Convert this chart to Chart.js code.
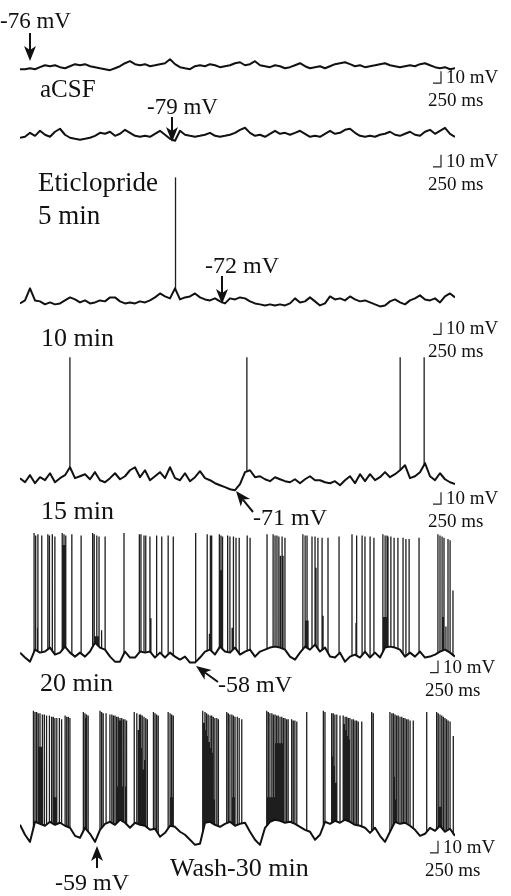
<!DOCTYPE html>
<html>
<head>
<meta charset="utf-8">
<script src="https://cdn.jsdelivr.net/npm/chart.js@4.4.1/dist/chart.umd.min.js"></script>
<style>
  html, body { margin: 0; padding: 0; background: #fff; }
  #page { position: relative; width: 511px; height: 896px; overflow: hidden; background: #fff; }
  #page canvas { position: absolute; left: 20px; }
  .lbl { position: absolute; font-family: "Liberation Serif", "DejaVu Serif", serif; color: #111; line-height: 1; white-space: nowrap; }
  #arrows { position: absolute; left: 0; top: 0; }
</style>
</head>
<body>
<div id="page"></div>
<script>
// baselines digitised every 0.15625 s (mV)
const dt = 0.15625;

const base1 = [-78.5,-78.5,-77.7,-78.5,-76.8,-75.2,-76,-75.2,-76.8,-77.7,
  -76,-74.3,-75.2,-74.3,-76,-76.8,-77.7,-78.5,-79.3,-77.7,
  -76,-73.5,-71.8,-74.3,-75.2,-74.3,-76,-75.2,-74.3,-73.5,
  -70.2,-74.3,-76.8,-77.7,-78.5,-76,-75.2,-76,-74.3,-75.2,
  -76.8,-76,-75.2,-73.5,-72.7,-75.2,-74.3,-71.8,-75.2,-76,
  -76.8,-75.2,-76,-77.7,-76.8,-75.2,-73.5,-76,-77.7,-76.8,
  -76,-77.7,-76,-74.3,-73.5,-72.7,-74.3,-76,-75.2,-76.8,
  -76,-75.2,-74.3,-73.5,-75.2,-76,-76.8,-76,-75.2,-76,
  -74.3,-73.5,-75.2,-76.8,-77.7,-76.8,-78.5,-77.7];

const base2 = [-77.3,-76.5,-73.2,-75.7,-71.5,-74.8,-76.5,-72.3,-69.8,-74.8,
  -77.3,-78.2,-79,-78.2,-77.3,-75.7,-73.2,-74,-72.3,-75.7,
  -74,-70.7,-73.2,-75.7,-76.5,-75.7,-76.5,-74,-71.5,-74.8,
  -78.2,-79.8,-71.5,-74.8,-75.7,-76.5,-75.7,-74.8,-73.2,-75.7,
  -76.5,-75.7,-74.8,-73.2,-70.7,-69,-73.2,-75.7,-74.8,-76.5,
  -74,-71.5,-74,-73.2,-74.8,-73.2,-71.5,-74,-76.5,-75.7,
  -76.5,-74,-71.5,-74,-73.2,-70.7,-69.8,-73.2,-75.7,-76.5,
  -75.7,-76.5,-74.8,-74,-72.3,-74.8,-75.7,-74,-72.3,-74.8,
  -75.7,-72.3,-70.7,-74,-71.5,-69,-74,-76.5];

const base3 = [-72,-69.5,-59.5,-69.5,-70.3,-72.8,-71.2,-72.8,-72,-69.5,
  -67,-68.7,-71.2,-69.5,-72,-71.2,-69.5,-70.3,-67,-67,
  -70.3,-72,-71.2,-72,-70.3,-71.2,-69.5,-67,-63.7,-66.2,
  -67.8,-59.5,-68.7,-67,-66.2,-63.7,-67,-68.7,-69.5,-67.8,
  -70.3,-72,-67.8,-68.7,-67,-67.8,-70.3,-72,-72.8,-73.7,
  -72.8,-73.7,-72.8,-73.7,-72,-67.8,-71.2,-70.3,-67,-70.3,
  -73.7,-72,-66.2,-68.7,-67.8,-69.5,-66.2,-68.7,-70.3,-69.5,
  -71.2,-72.8,-74.5,-73.7,-70.3,-68.7,-71.2,-72.8,-69.5,-67.8,
  -65.3,-68.7,-69.5,-67.8,-71.2,-66.2,-63.7,-67];

const base4 = [-61.8,-65.2,-59.3,-66,-61,-63.5,-57.7,-65.2,-61.8,-59.3,
  -52.7,-61.8,-60.2,-58.5,-62.7,-56.8,-63.5,-65.2,-61.8,-57.7,
  -62.7,-60.2,-55.2,-52.7,-61,-55.2,-63.5,-60.2,-56.8,-61.8,
  -52.7,-61.8,-63.5,-57.7,-64.3,-61,-56,-61.8,-63.5,-66,
  -67.7,-69.3,-71,-71.8,-66.8,-56.8,-55.2,-61,-60.2,-62.7,
  -64.3,-61,-62.7,-64.3,-65.2,-62.7,-66,-62.7,-60.2,-63.5,
  -63.5,-65.2,-66,-64.3,-67.7,-63.5,-60.2,-66,-58.5,-64.3,
  -58.5,-63.5,-61,-56.8,-61,-58.5,-55.2,-51,-61.8,-60.2,
  -56.8,-49.3,-60.2,-63.5,-57.7,-62.7,-65.2,-66.8];

const base5 = [-49.7,-53.8,-57.2,-47.2,-49.7,-48.8,-45.5,-51.3,-49.7,-44.7,
  -49.7,-53,-49.7,-53,-48.8,-41.3,-45.5,-47.2,-53,-57.2,
  -57.2,-48.8,-53.8,-53.8,-48.8,-49.7,-48.8,-53.8,-49.7,-53.8,
  -49.7,-53,-55.5,-53,-58,-58,-53.8,-48.8,-47.2,-51.3,
  -44.7,-48.8,-49.7,-45.5,-51.3,-48.8,-47.2,-53,-48.8,-47.2,
  -45.5,-44.7,-45.5,-47.2,-53,-55.5,-49.7,-44.7,-47.2,-43,
  -48.8,-45.5,-53,-53.8,-49.7,-57.2,-53,-51.3,-53.8,-48.8,
  -53.8,-49.7,-53.8,-45.5,-44.7,-45.5,-47.2,-53,-49.7,-53,
  -48.8,-53.8,-53,-51.3,-48.8,-47.2,-49.7,-53];

const base6 = [-44,-52.3,-58.2,-41.5,-43.2,-44.8,-41.5,-44,-42.3,-44.8,
  -46.5,-53.2,-54.8,-46.5,-51.5,-58.2,-48.2,-43.2,-41.5,-44,
  -39.8,-42.3,-46.5,-42.3,-44,-44.8,-48.2,-47.3,-54,-50.7,
  -44.8,-45.7,-49.8,-52.3,-56.5,-60.7,-59.8,-42.3,-41.5,-44,
  -45.7,-43.2,-41.5,-44.8,-43.2,-42.3,-49.8,-56.5,-60.7,-46.5,
  -41.5,-39.8,-40.7,-42.3,-41.5,-43.2,-45.7,-48.2,-49.8,-56.5,
  -52.3,-41.5,-43.2,-40.7,-42.3,-39.8,-41.5,-44,-44.8,-46.5,
  -50.7,-46.5,-53.2,-58.2,-49.8,-41.5,-43.2,-42.3,-44.8,-48.2,
  -53.2,-51.5,-46.5,-49,-44.8,-49.8,-47.3,-53.2];

// spike times (s) and peak potentials (mV)
const spikeT3 = [4.86];
const spikeV3 = [33];

const spikeT4 = [1.56, 7.09, 11.88, 12.63];
const spikeV4 = [39, 39, 39, 39];

const spikeT5 = [0.44,0.49,0.55,0.56,0.68,0.87,0.92,1.01,1.09,1.32,1.35,1.375,1.40,1.43,1.62,1.91,
  2.27,2.32,2.36,2.40,2.44,2.47,2.55,2.66,
  3.25,
  3.73,3.78,3.875,3.93,4.06,4.09,4.27,4.43,4.63,4.79,
  5.49,5.85,5.92,5.95,5.99,6.23,6.26,6.28,6.31,6.33,6.49,6.56,6.63,6.67,6.75,6.85,7.10,7.19,
  7.72,7.91,7.97,8.03,8.09,8.14,8.19,8.22,8.28,
  8.84,8.91,8.94,8.97,9.00,9.125,9.22,9.25,9.31,9.44,9.47,9.625,9.97,
  10.375,10.5,10.52,10.69,10.78,10.94,11.06,
  11.34,11.38,11.41,11.44,11.47,11.5,11.59,11.69,11.81,11.97,12.06,12.16,12.47,
  13.06,13.125,13.19,13.22,13.25,13.31,13.375,13.44,13.53];
const spikeV5 = [50,48,-29,49,48,49,48,49,47,50,40,49,40,48,49,48,
  50,49,-36,48,-36,47,-31,47,
  50,
  49,49,48,48,47,-21,48,47,48,47,
  50,49,-34,48,48,49,19,48,19,47,48,47,-29,47,46,46,48,46,
  49,49,48,48,47,31,47,31,46,
  49,48,-23,48,-23,47,47,21,46,46,-19,46,47,
  49,-25,48,48,47,47,46,
  49,-20,48,-20,48,47,47,46,46,46,45,45,46,
  49,48,47,-20,46,-28,45,44,2];

const spikeT6 = [0.42,0.47,0.52,0.57,0.60,0.625,0.66,0.70,0.76,0.83,0.92,0.99,1.04,1.07,1.09,1.12,1.15,1.23,1.30,1.41,1.46,1.51,1.56,
  1.98,2.03,2.06,2.08,2.13,
  2.5,2.55,2.60,2.69,2.81,2.87,2.92,2.97,3.02,3.05,3.07,3.10,3.125,3.15,3.18,3.21,3.23,3.28,3.31,3.33,
  3.57,3.65,3.70,3.73,3.77,3.80,3.82,3.85,3.875,3.90,3.93,3.98,
  4.17,4.22,4.27,4.32,
  4.63,4.69,4.72,4.74,4.77,4.79,
  5.71,5.75,5.78,5.81,5.83,5.86,5.88,5.91,5.94,5.97,5.99,6.02,6.04,6.07,6.09,6.15,6.20,
  6.46,6.51,6.56,6.62,6.645,6.67,6.70,6.72,6.79,6.85,6.93,
  7.71,7.74,7.76,7.79,7.81,7.84,7.87,7.90,7.92,7.95,7.97,8.00,8.02,8.05,8.07,8.10,8.125,8.15,8.18,8.21,8.23,8.28,8.33,8.38,8.49,8.54,8.59,8.65,
  8.96,
  9.48,9.53,9.74,9.77,9.79,9.82,9.84,9.87,9.90,10.0,10.10,10.13,10.16,10.19,10.21,10.24,10.26,10.29,10.31,10.37,10.42,10.47,10.52,10.57,10.68,
  10.99,11.04,
  11.56,11.62,11.67,11.70,11.72,11.75,11.77,11.82,11.875,11.93,11.98,12.03,12.08,12.13,12.19,12.29,
  12.71,
  13.02,13.07,13.10,13.125,13.15,13.18,13.23,13.28,13.33,13.38,13.44,13.54];
const spikeV6 = [51,50,50,49,21,49,21,48,48,47,47,46,46,-21,45,-21,45,45,44,47,46,46,45,
  50,49,45,48,47,
  51,50,49,49,48,48,47,47,46,-12,46,43,45,43,45,-12,44,44,-12,43,
  50,49,35,48,48,20,47,2,46,10,45,44,
  50,49,48,47,
  50,49,-21,48,-21,47,
  51,41,50,35,49,30,48,25,47,20,47,16,46,-23,45,45,44,
  50,49,48,48,-21,47,-21,46,46,45,44,
  51,-21,50,-21,49,-21,49,-21,48,-21,48,24,47,24,47,24,46,24,46,24,45,45,44,44,44,43,43,42,
  50,
  51,50,49,13,49,5,48,-9,48,47,47,40,46,35,46,30,45,27,45,44,44,43,43,42,42,
  50,49,
  50,49,49,-4,48,-23,47,47,46,46,45,45,44,44,43,43,
  50,
  50,49,-29,48,-29,47,46,45,44,43,42,30];

// calibration bar
const scaleMs = 250;
const scaleMv = 10;

// layout: rest = resting potential marked on trace, restY = its pixel row; bar = calibration corner
const panels = [
  { base: base1, spT: [], spV: [], rest: -76, restY: 66, barX: 441, barY: 83 },
  { base: base2, spT: [], spV: [], rest: -79, restY: 140, barX: 441, barY: 167 },
  { base: base3, spT: spikeT3, spV: spikeV3, rest: -72, restY: 303, barX: 441, barY: 334 },
  { base: base4, spT: spikeT4, spV: spikeV4, rest: -71, restY: 489, barX: 441, barY: 504 },
  { base: base5, spT: spikeT5, spV: spikeV5, rest: -58, restY: 663, barX: 438, barY: 673 },
  { base: base6, spT: spikeT6, spV: spikeV6, rest: -59, restY: 843, barX: 438, barY: 853 }
];

const mvMin = -120, mvMax = 60, pxPerMv = 1.2, pxPerS = 32, x0 = 20;
const tMax = 435 / pxPerS;
const page = document.getElementById('page');

function baseAt(arr, t) {
  const i = Math.min(arr.length - 2, Math.floor(t / dt));
  const f = t / dt - i;
  return arr[i] + (arr[i + 1] - arr[i]) * f;
}

panels.forEach(p => {
  const cv = document.createElement('canvas');
  const h = (mvMax - mvMin) * pxPerMv;
  cv.width = 435; cv.height = h;
  cv.style.width = '435px'; cv.style.height = h + 'px';
  cv.style.top = (p.restY - (mvMax - p.rest) * pxPerMv) + 'px';
  page.appendChild(cv);

  const baseData = p.base.map((v, i) => ({ x: i * dt, y: v }));
  const spikeData = [];
  p.spT.forEach((t, i) => {
    spikeData.push({ x: t, y: baseAt(p.base, t) });
    spikeData.push({ x: t, y: p.spV[i] });
    spikeData.push({ x: t, y: null });
  });
  const bt = (p.barX - x0) / pxPerS;
  const bv = p.rest - (p.barY - p.restY) / pxPerMv;
  const barData = [
    { x: bt - scaleMs / 1000, y: bv },
    { x: bt, y: bv },
    { x: bt, y: bv + scaleMv }
  ];

  new Chart(cv, {
    type: 'line',
    data: {
      datasets: [
        { data: baseData, borderColor: '#111', borderWidth: 2, pointRadius: 0, tension: 0, borderJoinStyle: 'round', clip: false },
        { data: spikeData, borderColor: '#1e1e1e', borderWidth: 1.3, pointRadius: 0, spanGaps: false, clip: false },
        { data: barData, borderColor: '#222', borderWidth: 1.2, pointRadius: 0, clip: false }
      ]
    },
    options: {
      responsive: false,
      animation: false,
      events: [],
      layout: { padding: 0 },
      plugins: { legend: { display: false }, tooltip: { enabled: false } },
      scales: {
        x: { type: 'linear', min: 0, max: tMax, display: false },
        y: { min: mvMin, max: mvMax, display: false }
      }
    }
  });
});

// text labels: [text, left, baseline, size]
const labels = [
  ['-76 mV', 0, 28, 23], ['aCSF', 40, 97, 25], ['-79 mV', 147, 114, 23],
  ['Eticlopride', 38, 192, 27], ['5 min', 38, 225, 27], ['-72 mV', 205, 273, 24],
  ['10 min', 41, 347, 26], ['15 min', 41, 520, 26], ['-71 mV', 253, 525, 24],
  ['20 min', 40, 692, 26], ['-58 mV', 218, 692, 24],
  ['Wash-30 min', 170, 877, 26], ['-59 mV', 55, 890, 24]
];
panels.forEach(p => {
  labels.push(['10 mV', p.barX + 5, p.barY, 19]);
  labels.push(['250 ms', p.barX - 13, p.barY + 23, 19]);
});
labels.forEach(([txt, x, b, s]) => {
  const d = document.createElement('div');
  d.className = 'lbl';
  d.textContent = txt;
  d.style.fontSize = s + 'px';
  d.style.left = x + 'px';
  d.style.top = (b - 0.84 * s) + 'px';
  page.appendChild(d);
});

// arrows: [fromX, fromY, tipX, tipY]
const arrows = [[30, 33, 30, 61], [172, 117, 172, 142], [222, 276, 222, 304],
  [253, 512, 236, 491], [218, 682, 196, 666], [97, 868, 97, 846]];
const NS = 'http://www.w3.org/2000/svg';
const svg = document.createElementNS(NS, 'svg');
svg.setAttribute('id', 'arrows');
svg.setAttribute('width', 511); svg.setAttribute('height', 896);
arrows.forEach(([x1, y1, x2, y2]) => {
  const dx = x2 - x1, dy = y2 - y1, L = Math.hypot(dx, dy);
  const ux = dx / L, uy = dy / L, nx = -uy, ny = ux;
  const hl = 15, hw = 6, notch = 4;
  const bx = x2 - ux * hl, by = y2 - uy * hl;
  const line = document.createElementNS(NS, 'line');
  line.setAttribute('x1', x1); line.setAttribute('y1', y1);
  line.setAttribute('x2', bx + ux * notch); line.setAttribute('y2', by + uy * notch);
  line.setAttribute('stroke', '#111'); line.setAttribute('stroke-width', 2);
  svg.appendChild(line);
  const head = document.createElementNS(NS, 'path');
  head.setAttribute('d', `M${x2},${y2} L${bx + nx * hw},${by + ny * hw} L${bx + ux * notch},${by + uy * notch} L${bx - nx * hw},${by - ny * hw} Z`);
  head.setAttribute('fill', '#111');
  svg.appendChild(head);
});
page.appendChild(svg);
</script>
</body>
</html>
